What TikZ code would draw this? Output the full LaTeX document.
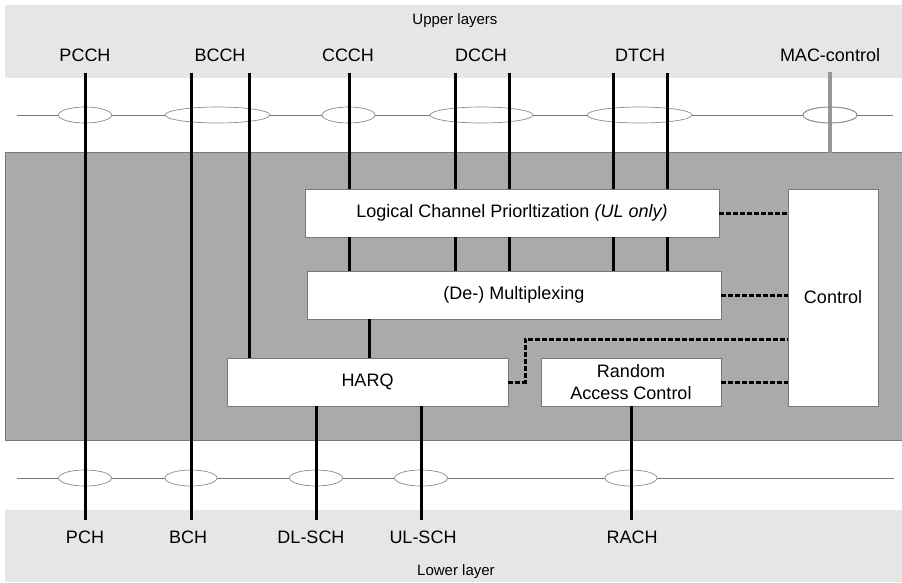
\documentclass[tikz,border=0pt]{standalone}
\usepackage{fontspec}
\setmainfont{Liberation Sans}
\usetikzlibrary{shapes.geometric}
\definecolor{bandgray}{RGB}{230,230,230}
\definecolor{macgray}{RGB}{170,170,170}
\definecolor{edgegray}{RGB}{120,120,120}
\definecolor{ellgray}{RGB}{140,140,140}
\definecolor{mcgray}{RGB}{150,150,150}
\begin{document}
\begin{tikzpicture}[x=1pt,y=-1pt,
  lbl/.style={font=\fontsize{18}{21}\selectfont, inner sep=0pt},
  layerlbl/.style={font=\fontsize{15}{18}\selectfont, inner sep=0pt},
  blk/.style={draw=edgegray, fill=white, line width=0.8pt, minimum height=48pt,
    font=\fontsize{18}{21}\selectfont, align=center, inner sep=0pt},
  ell/.style={ellipse, draw=ellgray, fill=white, line width=0.7pt, minimum height=16pt, inner sep=0pt},
  chan/.style={line width=3pt, black},
  bus/.style={line width=0.8pt, edgegray},
  ctl/.style={line width=3pt, black, dash pattern=on 4.5pt off 2.5pt}]
\useasboundingbox (0,0) rectangle (902,582);
% bands
\fill[bandgray] (5,5) rectangle (902,78);
\fill[bandgray] (5,510) rectangle (902,582);
\fill[macgray, draw=edgegray, line width=0.8pt] (5,152) rectangle (902,440);
\node[layerlbl] (upper) at (455,21) {Upper layers};
\node[layerlbl] (lower) at (456,572) {Lower layer};
% upper labels
\node[lbl] (pcch) at (85,55) {PCCH};
\node[lbl] (bcch) at (220,55) {BCCH};
\node[lbl] (ccch) at (348,55) {CCCH};
\node[lbl] (dcch) at (481,55) {DCCH};
\node[lbl] (dtch) at (640,55) {DTCH};
\node[lbl] (macc) at (830,55) {MAC-control};
% lower labels
\node[lbl] (pch) at (85,537) {PCH};
\node[lbl] (bch) at (188,537) {BCH};
\node[lbl] (dlsch) at (311,537) {DL-SCH};
\node[lbl] (ulsch) at (423,537) {UL-SCH};
\node[lbl] (rach) at (632,537) {RACH};
% boxes
\node[blk, minimum width=414pt] (lcp) at (512,213) {Logical Channel Priorltization \textit{(UL only)}};
\node[blk, minimum width=414pt] (mux) at (514,295) {(De-) Multiplexing};
\node[blk, minimum width=281pt] (harq) at (367.5,382) {HARQ};
\node[blk, minimum width=180pt, font=\fontsize{18}{22}\selectfont] (rac) at (631,382) {Random\\Access Control};
\node[blk, minimum width=90pt, minimum height=217pt] (control) at (833,297.5) {Control};
% buses
\coordinate (ubl) at (17,115); \coordinate (ubr) at (893,115);
\coordinate (lbusl) at (17,478); \coordinate (lbusr) at (894,478);
\draw[bus] (ubl) -- (ubr);
\draw[bus] (lbusl) -- (lbusr);
% upper ellipses
\node[ell, minimum width=53pt] (ue1) at (85,115) {};
\node[ell, minimum width=105pt] (ue2) at (217.5,115) {};
\node[ell, minimum width=53pt] (ue3) at (348.5,115) {};
\node[ell, minimum width=103pt] (ue4) at (481.5,115) {};
\node[ell, minimum width=105pt] (ue5) at (639.5,115) {};
\node[ell, minimum width=54pt] (ue6) at (830,115) {};
% lower ellipses
\node[ell, minimum width=53pt] (le1) at (85,478) {};
\node[ell, minimum width=52pt] (le2) at (191,478) {};
\node[ell, minimum width=53pt] (le3) at (316,478) {};
\node[ell, minimum width=53pt] (le4) at (421,478) {};
\node[ell, minimum width=52pt] (le5) at (631,478) {};
% channel end points
\coordinate (t1) at (85,73);  \coordinate (b1) at (85,520);
\coordinate (t2) at (191,73); \coordinate (b2) at (191,520);
\coordinate (t3) at (249,73);
\coordinate (t4) at (349,73);
\coordinate (t5) at (455,73);
\coordinate (t6) at (509,73);
\coordinate (t7) at (613,73);
\coordinate (t8) at (667,73);
\coordinate (b3) at (316,520);
\coordinate (b4) at (421,520);
\coordinate (b5) at (631,520);
\coordinate (mt) at (830,72); \coordinate (mb) at (830,153);
\coordinate (mx) at (369,0);
% channels
\draw[chan] (t1) -- (b1);
\draw[chan] (t2) -- (b2);
\draw[chan] (t3) -- (t3 |- harq.north);
\foreach \c in {t4,t5,t6,t7,t8} {
  \draw[chan] (\c) -- (\c |- lcp.north);
  \draw[chan] (\c |- lcp.south) -- (\c |- mux.north);
}
\draw[chan] (mx |- mux.south) -- (mx |- harq.north);
\draw[chan] (b3 |- harq.south) -- (b3);
\draw[chan] (b4 |- harq.south) -- (b4);
\draw[chan] (b5 |- rac.south) -- (b5);
\draw[line width=4pt, mcgray] (mt) -- (mb);
\node[ell, minimum width=54pt, fill=none] at (ue6) {};
% control lines
\coordinate (hk1) at (525,382);
\coordinate (hk2) at (525,339);
\draw[ctl] (lcp.east) -- (control.west |- lcp.east);
\draw[ctl] (mux.east) -- (control.west |- mux.east);
\draw[ctl] (rac.east) -- (control.west |- rac.east);
\draw[ctl] (harq.east) -- (hk1) -- (hk2) -- (control.west |- hk2);
\end{tikzpicture}
\end{document}
